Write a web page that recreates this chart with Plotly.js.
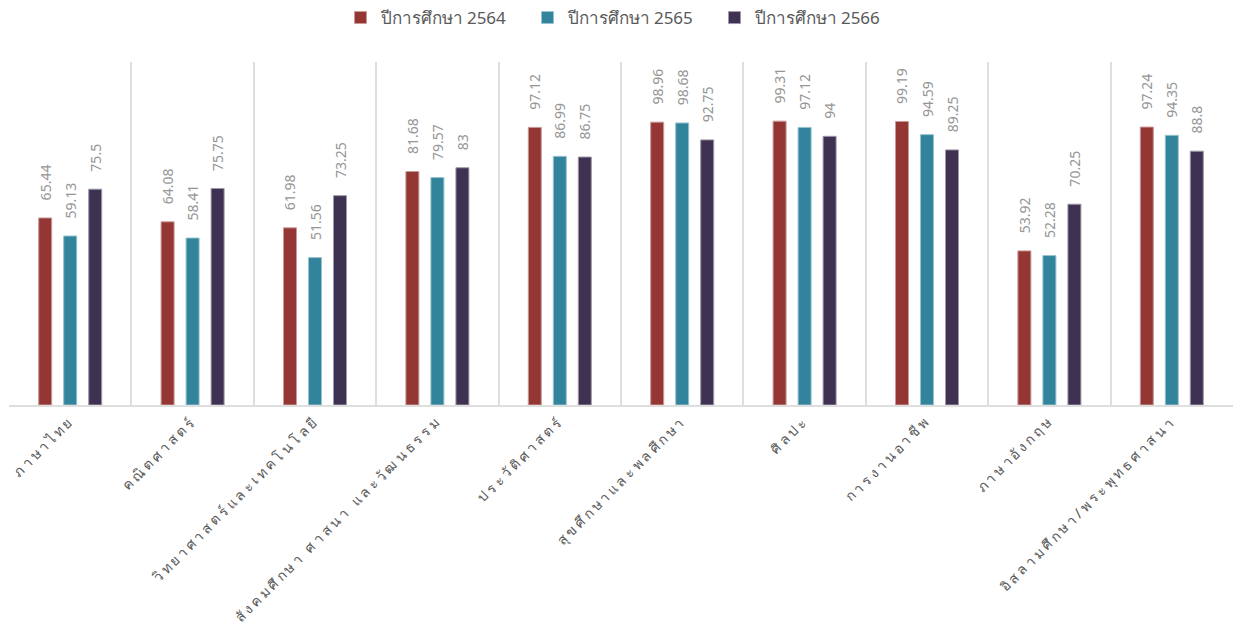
<!DOCTYPE html>
<html>
<head>
<meta charset="utf-8">
<script src="https://cdn.plot.ly/plotly-3.0.1.min.js"></script>
<style>
  html, body { margin: 0; padding: 0; background: #fff; }
  #plot { width: 1234px; height: 644px; }
  #plot .xtick text { letter-spacing: 3px; }
</style>
</head>
<body>
<div id="plot"></div>
<script>
// subjects (x categories)
const subjects = [
    'ภาษาไทย',
    'คณิตศาสตร์',
    'วิทยาศาสตร์และเทคโนโลยี',
    'สังคมศึกษา ศาสนา และวัฒนธรรม',
    'ประวัติศาสตร์',
    'สุขศึกษาและพลศึกษา',
    'ศิลปะ',
    'การงานอาชีพ',
    'ภาษาอังกฤษ',
    'อิสลามศึกษา/พระพุทธศาสนา'
];

const seriesNames = ['ปีการศึกษา 2564', 'ปีการศึกษา 2565', 'ปีการศึกษา 2566'];

const y2564 = [65.44, 64.08, 61.98, 81.68, 97.12, 98.96, 99.31, 99.19, 53.92, 97.24];
const y2565 = [59.13, 58.41, 51.56, 79.57, 86.99, 98.68, 97.12, 94.59, 52.28, 94.35];
const y2566 = [75.5, 75.75, 73.25, 83, 86.75, 92.75, 94, 89.25, 70.25, 88.8];

const colors = ['#943634', '#31849B', '#3F3151'];
const edgeColors = ['#c99a99', '#98c2cd', '#9f98a8'];

const font = "'Noto Sans', 'Open Sans', sans-serif";
const labelGap = '\u00a0\u00a0\u00a0\u00a0'; // push value labels off the bar tops

let traces = [y2564, y2565, y2566].map(function(vals, i) {
    return {
        type: 'bar',
        name: seriesNames[i],
        x: subjects,
        y: vals,
        text: vals.map(v => labelGap + v),
        textposition: 'outside',
        textangle: -90,
        constraintext: 'none',
        cliponaxis: false,
        textfont: {family: font, size: 14, color: '#969696'},
        marker: {color: colors[i], line: {color: edgeColors[i], width: 1}},
        hoverinfo: 'x+y+name'
    };
});

let layout = {
    width: 1234,
    height: 644,
    margin: {l: 9, r: 1, t: 62, b: 239},
    paper_bgcolor: '#ffffff',
    plot_bgcolor: '#ffffff',
    barmode: 'group',
    bargap: 0.387,
    bargroupgap: 0.48,
    font: {family: font, size: 14, color: '#595959'},
    showlegend: true,
    legend: {
        orientation: 'h',
        x: 0.5,
        xanchor: 'center',
        y: 1.0,
        yref: 'container',
        yanchor: 'top',
        font: {family: font, size: 17, color: '#595959'},
        itemwidth: 30,
        entrywidth: 142,
        traceorder: 'normal'
    },
    xaxis: {
        type: 'category',
        tickson: 'boundaries',
        showgrid: true,
        gridcolor: '#dedede',
        gridwidth: 2,
        ticks: '',
        tickangle: -45,
        tickfont: {family: font, size: 14, color: '#595959'},
        showline: true,
        linecolor: '#dedede',
        linewidth: 2,
        fixedrange: true
    },
    yaxis: {
        range: [0, 120],
        visible: false,
        fixedrange: true
    }
};

Plotly.newPlot('plot', traces, layout, {displayModeBar: false, staticPlot: true});
</script>
</body>
</html>
